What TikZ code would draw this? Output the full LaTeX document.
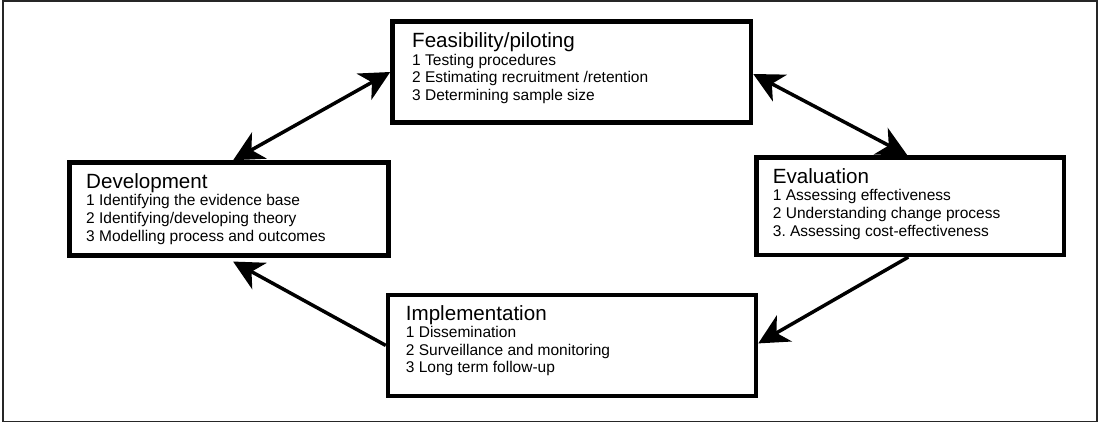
\documentclass[tikz,border=0pt]{standalone}
\usepackage{fontspec}
\setmainfont{Liberation Sans}
\usetikzlibrary{arrows.meta}
\frenchspacing
\newcommand\stagetitle{\fontsize{20.6}{20.6}\selectfont}
\newcommand\stageitem{\fontsize{15.5}{17.6}\selectfont}
\newcommand\stagebody[2]{\parbox[t]{320pt}{{\stagetitle #1\par}\stageitem #2}}
\begin{document}
\begin{tikzpicture}[x=1pt,y=-1pt,
  stage/.style={draw=black, line width=4.5pt, rectangle, inner sep=0pt, fill=white},
  stagetext/.style={anchor=base west, inner sep=0pt},
  tip/.tip={Stealth[length=30pt,width=30pt,inset=9pt]},
  twoway/.style={line width=3.5pt, tip-tip},
  oneway/.style={line width=3.5pt, -tip}]
\useasboundingbox (0,0) rectangle (1099,423);
% outer frame
\draw[line width=1.6pt, black!85] (3,0.8) rectangle (1097,421.6);

% the four stages of the cycle
\node[stage, minimum width=358.5pt, minimum height=101pt] (feas) at (571.75,72) {};
\node[stage, minimum width=319.2pt, minimum height=92.8pt] (dev) at (229.1,208.9) {};
\node[stage, minimum width=307.7pt, minimum height=97.3pt] (eval) at (910.35,206.15) {};
\node[stage, minimum width=368pt, minimum height=100.8pt] (impl) at (572,345.4) {};

\node[stagetext] (feastext) at (412,47.5) {\stagebody{Feasibility/piloting}{%
  1 Testing procedures\\2 Estimating recruitment /retention\\3 Determining sample size}};
\node[stagetext] (devtext) at (86,188.3) {\stagebody{Development}{%
  1 Identifying the evidence base\\2 Identifying/developing theory\\3 Modelling process and outcomes}};
\node[stagetext] (evaltext) at (772.7,183.3) {\stagebody{Evaluation}{%
  1 Assessing effectiveness\\2 Understanding change process\\3. Assessing cost-effectiveness}};
\node[stagetext] (impltext) at (405.7,320) {\stagebody{Implementation}{%
  1 Dissemination\\2 Surveillance and monitoring\\3 Long term follow-up}};

% connectors
\draw[twoway] ([xshift=4pt]dev.north) -- (feas.west);
\draw[twoway] ([yshift=-2pt]feas.east) -- ([xshift=-3pt]eval.north);
\draw[oneway] ([xshift=-2pt]eval.south) -- ([yshift=2pt]impl.east);
\draw[oneway] (impl.west) -- ([xshift=4pt,yshift=-4pt]dev.south);
\end{tikzpicture}
\end{document}
